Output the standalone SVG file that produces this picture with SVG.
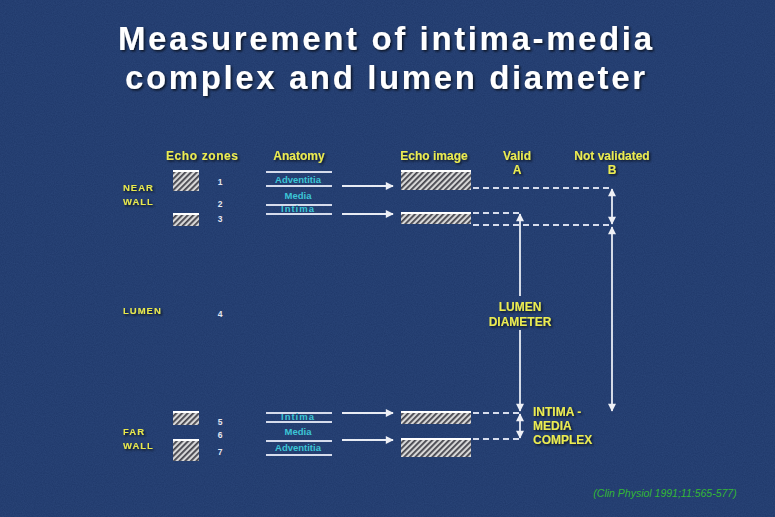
<svg xmlns="http://www.w3.org/2000/svg" width="775" height="517" viewBox="0 0 775 517">
<defs>
<style>
.title{font-family:"Liberation Sans",Arial,sans-serif;font-weight:bold;font-size:33px;fill:#ffffff;}
.hdr{font-family:"Liberation Sans",Arial,sans-serif;font-weight:bold;font-size:12px;fill:#ecec50;}
.lbl{font-family:"Liberation Sans",Arial,sans-serif;font-weight:bold;font-size:9.5px;fill:#e8e84c;letter-spacing:1px;}
.big{font-family:"Liberation Sans",Arial,sans-serif;font-weight:bold;font-size:12px;fill:#ecec50;}
.num{font-family:"Liberation Sans",Arial,sans-serif;font-weight:bold;font-size:8.5px;fill:#e6e8f0;}
.ana{font-family:"Liberation Sans",Arial,sans-serif;font-weight:bold;font-size:9.5px;fill:#3cc6d6;}
.cite{font-family:"Liberation Sans",Arial,sans-serif;font-style:italic;font-size:10.5px;fill:#34b834;}
.ln{stroke:#d6dcec;stroke-width:1.8;fill:none;}
.dash{stroke:#d6dcec;stroke-width:1.8;fill:none;stroke-dasharray:6 4;}
.arr{stroke:#e8ecf4;stroke-width:1.8;fill:none;}
.hatch{fill:url(#hp);stroke:none;}
.edge{stroke:#ffffff;stroke-width:2;}
</style>
<pattern id="hp" patternUnits="userSpaceOnUse" width="4" height="4" patternTransform="rotate(45)">
<rect width="4" height="4" fill="#d8d8d8"/>
<rect width="1.8" height="4" fill="#44444c"/>
</pattern>
<marker id="ah" viewBox="0 0 10 10" refX="9" refY="5" markerWidth="9" markerHeight="8" orient="auto-start-reverse" markerUnits="userSpaceOnUse">
<path d="M0,0 L10,5 L0,10 z" fill="#eef0f6"/>
</marker>
<filter id="sh" x="-10%" y="-30%" width="120%" height="160%">
<feDropShadow dx="1.5" dy="1.5" stdDeviation="1" flood-color="#000000" flood-opacity="0.7"/>
</filter>
<filter id="noise" x="0" y="0" width="100%" height="100%">
<feTurbulence type="fractalNoise" baseFrequency="0.9" numOctaves="2" seed="3"/>
<feColorMatrix type="matrix" values="0 0 0 0 0.1  0 0 0 0 0.2  0 0 0 0 0.45  0 0 0 0.35 0"/>
</filter>
</defs>
<rect width="775" height="517" fill="#1f386a"/>
<rect width="775" height="517" filter="url(#noise)" opacity="0.6"/>

<g id="title" filter="url(#sh)">
<text class="title" x="385" y="50" text-anchor="middle" textLength="534" lengthAdjust="spacing">Measurement of intima-media</text>
<text class="title" x="385" y="89" text-anchor="middle" textLength="520" lengthAdjust="spacing">complex and lumen diameter</text>
</g>

<g id="headers" filter="url(#sh)">
<text class="hdr" x="202" y="160" text-anchor="middle" textLength="72" lengthAdjust="spacing">Echo  zones</text>
<text class="hdr" x="299" y="160" text-anchor="middle">Anatomy</text>
<text class="hdr" x="434" y="160" text-anchor="middle">Echo image</text>
<text class="hdr" x="517" y="160" text-anchor="middle">Valid</text>
<text class="hdr" x="517" y="174" text-anchor="middle">A</text>
<text class="hdr" x="612" y="160" text-anchor="middle">Not validated</text>
<text class="hdr" x="612" y="174" text-anchor="middle">B</text>
</g>

<g id="region-labels" filter="url(#sh)">
<text class="lbl" x="123" y="191">NEAR</text>
<text class="lbl" x="123" y="205">WALL</text>
<text class="lbl" x="123" y="314">LUMEN</text>
<text class="lbl" x="123" y="435">FAR</text>
<text class="lbl" x="123" y="449">WALL</text>
</g>

<g id="echo-zones">
<g id="zone-1"><rect class="hatch" x="173" y="170" width="26" height="21"/><line class="edge" x1="173" y1="171" x2="199" y2="171"/></g>
<g id="zone-3"><rect class="hatch" x="173" y="213" width="26" height="13"/><line class="edge" x1="173" y1="214" x2="199" y2="214"/></g>
<g id="zone-5"><rect class="hatch" x="173" y="411" width="26" height="14"/><line class="edge" x1="173" y1="412" x2="199" y2="412"/></g>
<g id="zone-7"><rect class="hatch" x="173" y="439" width="26" height="22"/><line class="edge" x1="173" y1="440" x2="199" y2="440"/></g>
</g>

<g id="zone-numbers">
<text class="num" x="220" y="185" text-anchor="middle">1</text>
<text class="num" x="220" y="207" text-anchor="middle">2</text>
<text class="num" x="220" y="222" text-anchor="middle">3</text>
<text class="num" x="220" y="317" text-anchor="middle">4</text>
<text class="num" x="220" y="425" text-anchor="middle">5</text>
<text class="num" x="220" y="438" text-anchor="middle">6</text>
<text class="num" x="220" y="455" text-anchor="middle">7</text>
</g>

<g id="anatomy-near">
<line class="ln" x1="266" y1="172" x2="332" y2="172"/>
<line class="ln" x1="266" y1="186" x2="332" y2="186"/>
<line class="ln" x1="266" y1="205" x2="332" y2="205"/>
<line class="ln" x1="266" y1="214" x2="332" y2="214"/>
<text class="ana" x="298" y="183" text-anchor="middle">Adventitia</text>
<text class="ana" x="298" y="199" text-anchor="middle">Media</text>
<text class="ana" x="298" y="212" text-anchor="middle" letter-spacing="1">Intima</text>
</g>

<g id="anatomy-far">
<line class="ln" x1="266" y1="413" x2="332" y2="413"/>
<line class="ln" x1="266" y1="422" x2="332" y2="422"/>
<line class="ln" x1="266" y1="441" x2="332" y2="441"/>
<line class="ln" x1="266" y1="455" x2="332" y2="455"/>
<text class="ana" x="298" y="420" text-anchor="middle" letter-spacing="1">Intima</text>
<text class="ana" x="298" y="435" text-anchor="middle">Media</text>
<text class="ana" x="298" y="451" text-anchor="middle">Adventitia</text>
</g>

<g id="echo-image">
<g id="img-1"><rect class="hatch" x="401" y="170" width="70" height="20"/><line class="edge" x1="401" y1="171" x2="471" y2="171"/></g>
<g id="img-3"><rect class="hatch" x="401" y="212" width="70" height="12"/><line class="edge" x1="401" y1="213" x2="471" y2="213"/></g>
<g id="img-5"><rect class="hatch" x="401" y="411" width="70" height="13"/><line class="edge" x1="401" y1="412" x2="471" y2="412"/></g>
<g id="img-7"><rect class="hatch" x="401" y="438" width="70" height="19"/><line class="edge" x1="401" y1="439" x2="471" y2="439"/></g>
</g>

<g id="connectors">
<line class="arr" x1="342" y1="186" x2="393" y2="186" marker-end="url(#ah)"/>
<line class="arr" x1="342" y1="214" x2="393" y2="214" marker-end="url(#ah)"/>
<line class="arr" x1="342" y1="413" x2="393" y2="413" marker-end="url(#ah)"/>
<line class="arr" x1="342" y1="440" x2="393" y2="440" marker-end="url(#ah)"/>
<line class="dash" x1="473" y1="188" x2="613" y2="188"/>
<line class="dash" x1="473" y1="213" x2="522" y2="213"/>
<line class="dash" x1="473" y1="225" x2="613" y2="225"/>
<line class="dash" x1="473" y1="413" x2="522" y2="413"/>
<line class="dash" x1="473" y1="439" x2="522" y2="439"/>
<line class="arr" x1="520" y1="214" x2="520" y2="296" marker-start="url(#ah)"/>
<line class="arr" x1="520" y1="330" x2="520" y2="411" marker-end="url(#ah)"/>
<line class="arr" x1="520" y1="414" x2="520" y2="438" marker-start="url(#ah)" marker-end="url(#ah)"/>
<line class="arr" x1="612" y1="189" x2="612" y2="224" marker-start="url(#ah)" marker-end="url(#ah)"/>
<line class="arr" x1="612" y1="227" x2="612" y2="411" marker-start="url(#ah)" marker-end="url(#ah)"/>
</g>

<g id="measure-labels" filter="url(#sh)">
<text class="big" x="520" y="311" text-anchor="middle">LUMEN</text>
<text class="big" x="520" y="326" text-anchor="middle">DIAMETER</text>
<text class="big" x="533" y="416">INTIMA -</text>
<text class="big" x="533" y="430">MEDIA</text>
<text class="big" x="533" y="444">COMPLEX</text>
</g>

<text class="cite" x="665" y="497" text-anchor="middle">(Clin Physiol 1991;11:565-577)</text>
</svg>
